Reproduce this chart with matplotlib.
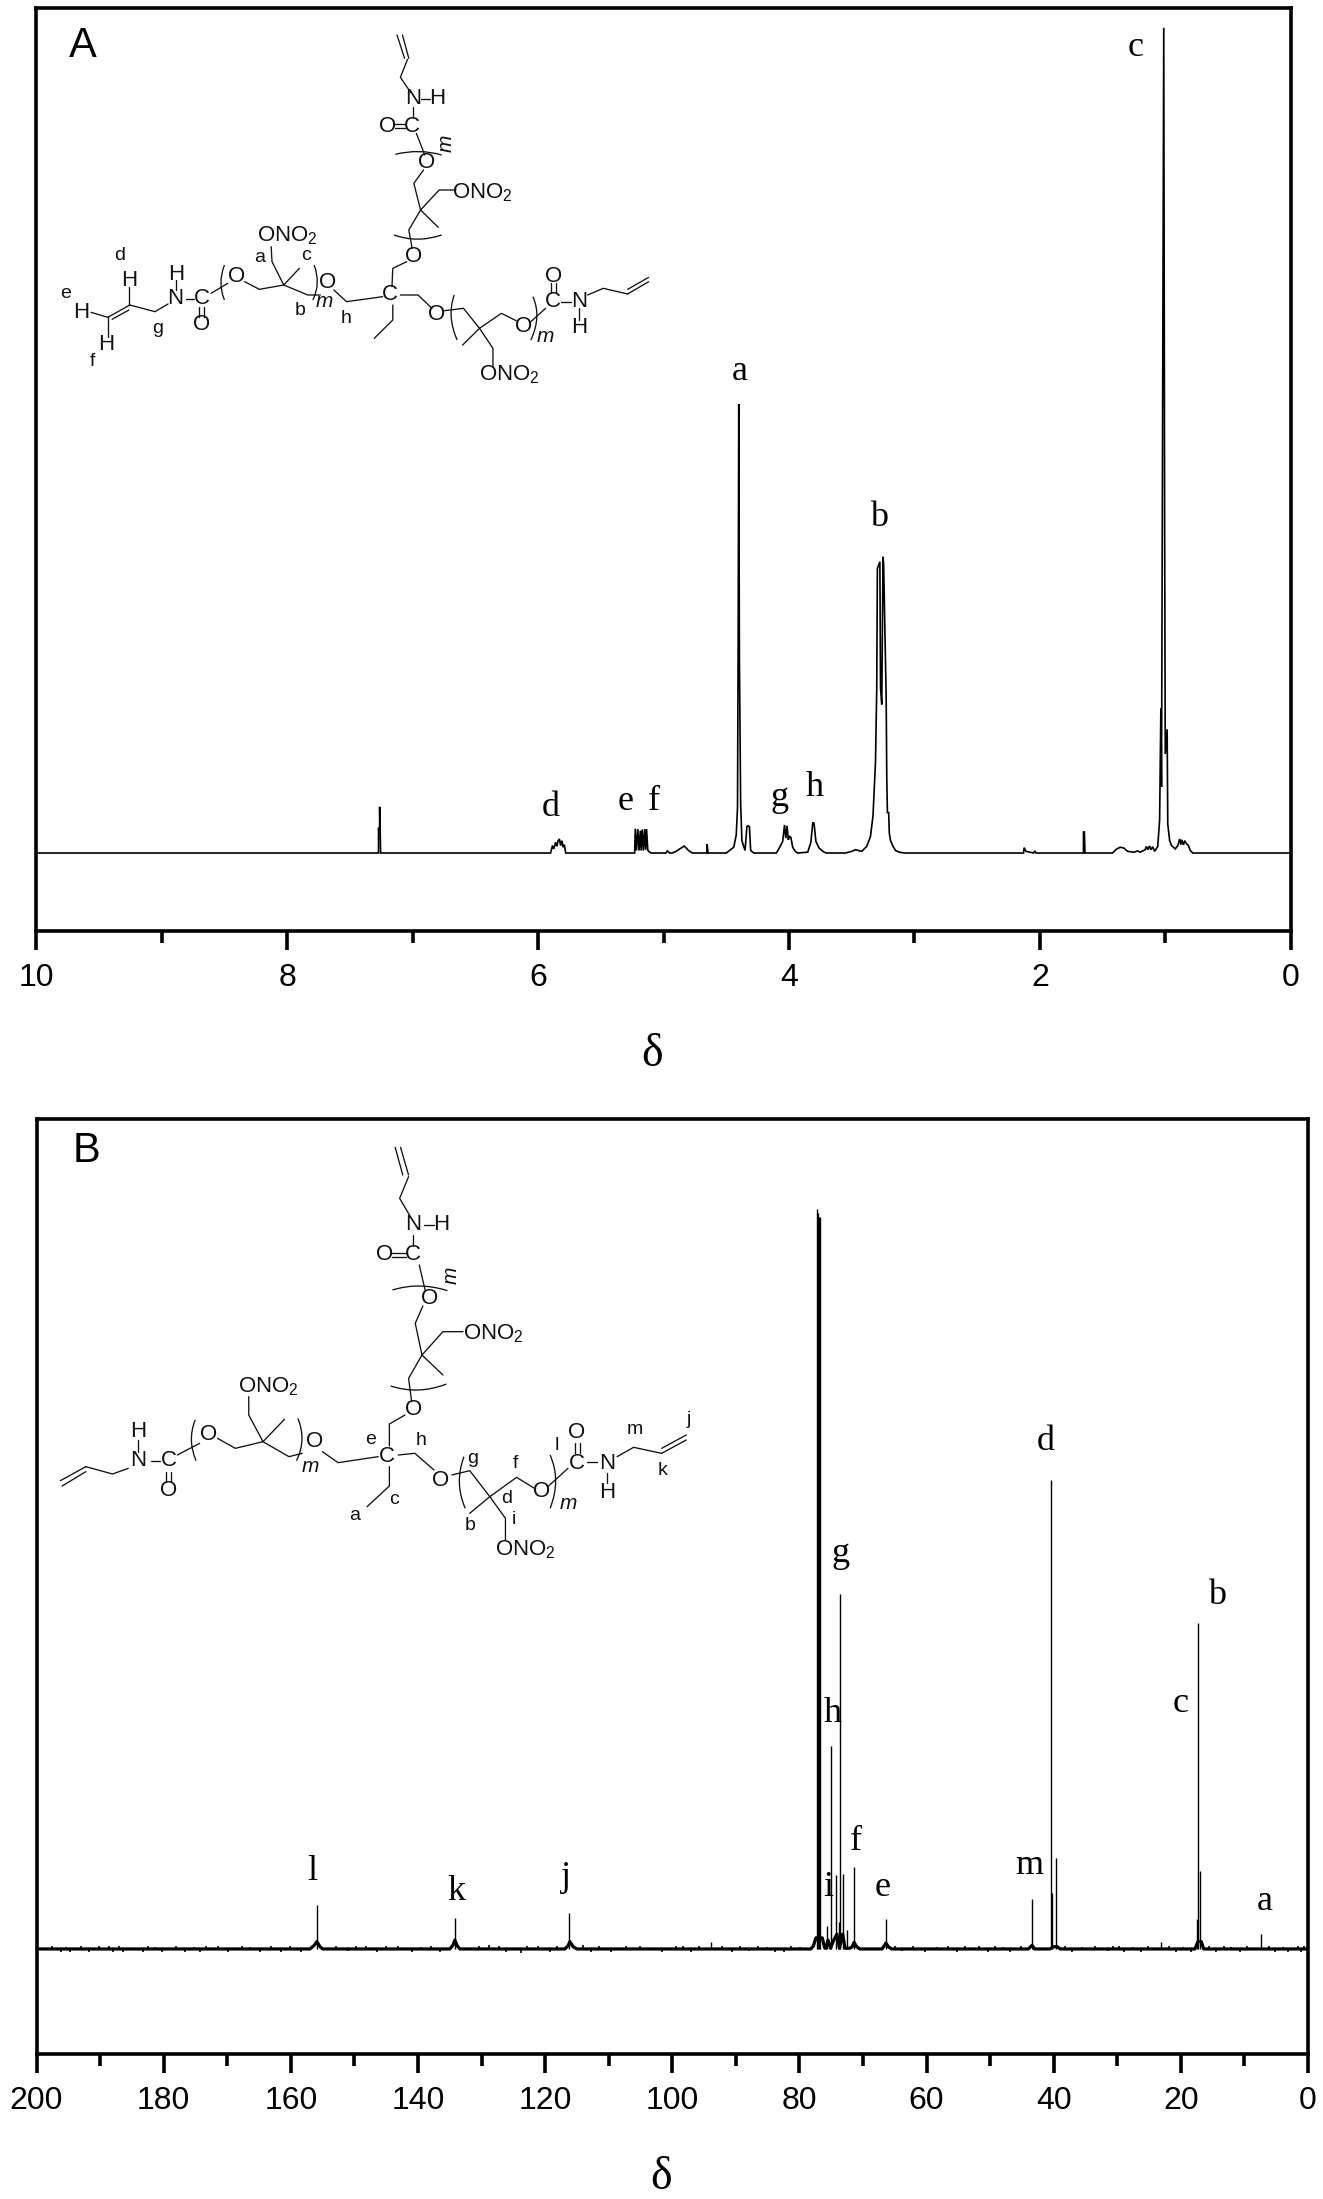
"""NMR spectra of the star polymer, 1H (A) and 13C (B), with the structures drawn on top."""

import matplotlib
matplotlib.use('Agg')
import matplotlib.pyplot as plt
from matplotlib.patches import PathPatch
from matplotlib.path import Path

plt.rcParams['font.family'] = ['Liberation Sans', 'DejaVu Sans']
plt.rcParams['mathtext.fontset'] = 'custom'
plt.rcParams['mathtext.rm'] = 'Liberation Sans'
plt.rcParams['mathtext.default'] = 'regular'

W, H = 1323, 2199
SERIF = ['Liberation Serif', 'DejaVu Serif']

# 1H trace (intensity: tallest peak = 100)
a_ppm = [10, 7.272, 7.272, 7.263, 7.263, 7.255,
         5.90, 5.885, 5.875, 5.86, 5.85, 5.84, 5.83, 5.82, 5.81, 5.80, 5.79, 5.78,
         5.23, 5.225, 5.215, 5.205, 5.195, 5.185, 5.178, 5.170, 5.160, 5.150, 5.142, 5.135, 5.125, 5.10,
         4.98, 4.97, 4.95, 4.93, 4.90, 4.87, 4.835, 4.80, 4.77,
         4.655, 4.652, 4.645, 4.60, 4.50, 4.47,
         4.44, 4.42, 4.41, 4.405, 4.40, 4.395, 4.385, 4.375, 4.35,
         4.335, 4.325, 4.315, 4.305, 4.28,
         4.10, 4.07, 4.05, 4.035, 4.025, 4.015, 4.005, 3.995, 3.985, 3.97, 3.95, 3.93,
         3.85, 3.84, 3.825, 3.81, 3.80, 3.785, 3.76, 3.72, 3.70,
         3.55, 3.50, 3.47, 3.42, 3.38, 3.35, 3.33, 3.31, 3.30, 3.295, 3.275, 3.27, 3.26, 3.25,
         3.245, 3.225, 3.22, 3.215, 3.205, 3.20, 3.19, 3.17, 3.15, 3.12, 3.08,
         2.13, 2.125, 2.11, 2.08, 2.05, 2.04, 2.03,
         1.652, 1.652, 1.645, 1.64,
         1.42, 1.39, 1.36, 1.33, 1.30, 1.25, 1.22, 1.20, 1.16, 1.15, 1.14, 1.125, 1.115, 1.10, 1.085,
         1.06, 1.045, 1.035, 1.03, 1.012, 1.005, 1.0, 0.985, 0.98, 0.965, 0.95, 0.92, 0.90,
         0.885, 0.875, 0.87, 0.855, 0.845, 0.83, 0.815, 0.80, 0.78, 0.75, 0]
a_int = [0, 0, 3.0, 3.0, 5.6, 0,
         0, 0.9, 0.5, 1.3, 0.8, 1.5, 1.7, 0.9, 1.5, 0.7, 1.0, 0,
         0, 2.95, 0.3, 2.9, 0.3, 2.7, 0.3, 2.85, 0.3, 2.9, 0.4, 2.9, 0.3, 0,
         0, 0.25, 0, 0, 0.2, 0.5, 0.85, 0.3, 0,
         0, 1.05, 0, 0, 0, 0.35,
         0.7, 2.2, 5.5, 25, 54.4, 24, 6.0, 1.5, 0.3,
         3.2, 3.3, 3.2, 0.3, 0,
         0, 0.8, 1.4, 3.4, 1.8, 3.3, 1.6, 2.0, 1.9, 0.7, 0.2, 0,
         0.1, 0.6, 1.3, 3.7, 3.6, 1.4, 0.6, 0.1, 0,
         0, 0.2, 0.4, 0.2, 0.8, 2.0, 4.5, 11, 20, 34.5, 35.3, 20, 18, 35.9,
         34.9, 19, 9, 4.9, 4.9, 2.4, 1.5, 0.8, 0.3, 0.1, 0,
         0, 0.65, 0.2, 0.1, 0, 0.25, 0,
         0, 2.55, 2.55, 0,
         0, 0.45, 0.7, 0.6, 0.2, 0.1, 0.25, 0.1, 0.4, 0.8, 0.4, 0.85, 0.4, 0.75, 0.2,
         0.8, 4.0, 17.5, 8, 100, 40, 12, 15, 3.5, 1.5, 0.9, 0.5, 0.9,
         1.7, 1.0, 1.6, 1.0, 1.5, 1.1, 0.9, 0.3, 0, 0, 0]

# 13C sticks and the small feet under the bigger ones
b_peak_ppm = [155.9, 134.2, 116.2, 93.9, 77.2, 77.05, 76.9, 76.75, 75.6, 75.0, 74.3, 73.8, 73.6, 73.2,
              72.5, 71.4, 66.4, 43.4, 40.45, 40.2, 39.7, 23.15, 17.4, 17.24, 17.0, 7.4]
b_peak_int = [5.9, 4.2, 4.8, 0.9, 100, 99.5, 99, 99, 3.1, 27.4, 10, 3.7, 48, 10.1,
              2.6, 11.1, 4.05, 6.8, 63.4, 7.5, 12.3, 0.9, 4, 44, 10.5, 2]
b_foot_ppm = [200, 157, 156.3, 155.9, 155.4, 155, 135, 134.5, 134.2, 133.8, 133.4, 116.9, 116.4, 116.1, 115.6, 115,
              78.2, 77.8, 77.4, 76.4, 76, 75.8, 75.5, 75.1, 74.6, 74.1, 73.7, 73.2, 72.8, 72, 71.7, 71.4, 71, 70.5,
              67, 66.6, 66.4, 66, 65.5, 44, 43.4, 43, 40.6, 40, 39.4, 39, 17.8, 17.3, 16.8, 16.4, 0]
b_foot_int = [0, 0, 0.5, 1.0, 0.3, 0, 0, 0.5, 1.2, 0.4, 0, 0, 0.4, 1.0, 0.3, 0,
              0, 0.4, 1.5, 1.5, 0.1, 0.1, 1.2, 0.1, 1.2, 2.0, 0.1, 2.0, 0.1, 0.1, 0.3, 0.9, 0.3, 0,
              0, 0.5, 0.8, 0.3, 0, 0, 0.5, 0, 0, 0.3, 0.3, 0, 0, 1.0, 1.0, 0, 0]
b_noise_ppm = [197.5, 196.2, 195.4, 194.8, 193.0, 191.8, 190.2, 188.6, 187.9, 187.0, 186.4, 183.2, 182.5, 181.4, 180.3, 178.0,
               176.6, 175.2, 174.3, 173.4, 171.5, 169.8, 167.6, 166.4, 164.8, 163.1, 161.5, 160.2, 158.4, 152.9, 151.0, 149.7,
               148.2, 146.4, 145.1, 143.2, 141.0, 139.5, 137.9, 136.6, 130.4, 128.8, 127.3, 126.1, 123.8, 122.9, 121.1, 119.2,
               118.1, 114.0, 112.8, 111.5, 109.7, 107.2, 105.0, 101.6, 99.4, 98.3, 97.1, 95.8, 92.1, 90.6, 89.4, 87.9, 86.5,
               85.1, 83.9, 82.4, 81.3, 79.9, 65.0, 63.8, 62.1, 60.2, 58.3, 56.7, 55.2, 53.9, 51.8, 50.4, 49.2, 48.0, 46.8, 45.2,
               38.3, 37.2, 35.6, 33.5, 31.4, 30.6, 29.8, 29.0, 27.6, 26.2, 25.1, 21.9, 20.8, 19.6, 18.4, 15.6, 14.4, 13.2, 12.1,
               10.7, 9.6, 6.1, 5.2, 4.0, 3.1, 1.6, 1.1, 0.6]
b_noise_int = [0.35, -0.4, 0.3, -0.4, 0.4, -0.35, 0.4, 0.35, -0.4, 0.4, -0.35, -0.4, 0.35, 0.3, -0.4, 0.4,
               -0.35, 0.3, -0.4, 0.4, 0.35, -0.4, 0.4, 0.3, -0.4, 0.35, -0.35, 0.4, -0.4, 0.35, -0.3, 0.4,
               0.4, -0.4, 0.35, 0.4, -0.35, 0.3, 0.4, -0.4, 0.4, 0.5, 0.45, -0.4, -0.5, 0.35, 0.4, -0.4,
               0.35, 0.5, -0.35, 0.4, -0.4, 0.35, 0.35, -0.35, 0.4, 0.45, -0.4, 0.35, 0.4, -0.35, 0.35, -0.3, 0.35,
               0.3, -0.35, -0.4, 0.35, 0.3, 0.4, -0.3, 0.35, -0.4, 0.3, 0.35, -0.35, 0.4, 0.35, -0.4, 0.35, 0.3, -0.35, 0.4,
               0.4, -0.35, 0.3, 0.4, -0.3, 0.45, 0.4, -0.35, 0.3, -0.4, 0.35, 0.4, -0.35, 0.3, -0.4, 0.45, -0.4, 0.35, 0.3,
               -0.35, 0.4, 0.35, -0.4, 0.3, -0.35, 0.4, -0.4, 0.45]

a_ticks = [10, 8, 6, 4, 2, 0]
a_minor = [9, 7, 5, 3, 1]
b_ticks = [200, 180, 160, 140, 120, 100, 80, 60, 40, 20, 0]
b_minor = [190, 170, 150, 130, 110, 90, 70, 50, 30, 10]

# peak letters: text, x, y in pixels
a_letters = [('a', 740, 371), ('b', 879, 518), ('c', 1136, 48), ('d', 551, 807), ('e', 626, 802),
             ('f', 654, 802), ('g', 780, 798), ('h', 815, 787)]
b_letters = [('l', 312, 1871), ('k', 456, 1892), ('j', 566, 1877), ('i', 828, 1887), ('f', 856, 1841),
             ('e', 883, 1887), ('m', 1029, 1865), ('a', 1265, 1902), ('h', 833, 1713), ('g', 841, 1553),
             ('d', 1046, 1441), ('c', 1181, 1703), ('b', 1217, 1595)]

# structure A, coordinates taken from a crop at (30, 0)
a_bonds = [
    [(872, 105), (890, 175)], [(885, 105), (900, 175)], [(897, 178), (880, 232), (905, 278)],
    [(930, 297), (950, 297)], [(910, 322), (910, 355)], [(868, 372), (892, 372)], [(868, 385), (892, 385)],
    [(918, 400), (938, 465)],
    [(935, 510), (912, 550), (928, 630)], [(928, 630), (972, 570), (1012, 570)], [(928, 630), (970, 682)],
    [(928, 630), (900, 690), (908, 745)],
    [(895, 785), (862, 805), (860, 860)], [(880, 885), (922, 885), (955, 925)],
    [(862, 915), (862, 960), (818, 1015)], [(838, 890), (752, 905), (722, 870)],
    [(690, 885), (660, 885), (603, 855)], [(603, 855), (575, 785), (573, 740)], [(603, 855), (640, 805)],
    [(603, 855), (545, 868), (510, 845)],
    [(470, 850), (430, 880)], [(402, 920), (402, 950)], [(414, 920), (414, 950)], [(370, 897), (390, 897)],
    [(347, 840), (347, 870)], [(328, 912), (297, 935), (237, 915)], [(235, 860), (235, 915)],
    [(237, 915), (185, 952)], [(235, 930), (195, 958)], [(145, 937), (185, 952)], [(185, 952), (185, 1010)],
    [(985, 932), (1030, 925), (1068, 985)], [(1068, 985), (1120, 940), (1155, 962)], [(1068, 985), (1028, 1035)],
    [(1068, 985), (1100, 1045), (1100, 1100)],
    [(1190, 965), (1225, 925)], [(1238, 880), (1238, 850)],
    [(1250, 880), (1250, 850)], [(1262, 905), (1285, 905)], [(1305, 925), (1305, 960)],
    [(1325, 885), (1362, 865), (1420, 882)], [(1420, 882), (1470, 845)], [(1420, 868), (1470, 832)],
]
a_arcs = [[(868, 463), (925, 445), (978, 465)], [(865, 705), (920, 730), (978, 705)],
          [(462, 795), (445, 850), (462, 900)], [(675, 795), (692, 850), (672, 900)],
          [(1008, 885), (990, 950), (1015, 1020)], [(1195, 890), (1216, 950), (1190, 1020)]]
a_atoms = [('N', 910, 297), ('H', 968, 297), ('C', 908, 378), ('O', 850, 378), ('O', 942, 488),
           ('ONO$_2$', 1075, 577), ('O', 912, 770), ('C', 855, 885), ('O', 965, 945), ('O', 708, 848),
           ('ONO$_2$', 612, 708), ('O', 490, 830), ('C', 408, 897), ('O', 408, 975), ('N', 345, 897),
           ('H', 347, 822), ('H', 235, 842), ('H', 122, 937), ('H', 182, 1035), ('O', 1172, 980),
           ('ONO$_2$', 1140, 1125), ('C', 1242, 905), ('O', 1245, 828), ('N', 1305, 905), ('H', 1305, 982)]
a_small = [('d', 212, 765), ('e', 84, 880), ('f', 148, 1085), ('g', 304, 985), ('a', 545, 772),
           ('c', 655, 768), ('b', 643, 932), ('h', 752, 955)]
a_italic = [('m', 700, 905, 0), ('m', 1225, 1010, 0), ('m', 988, 430, 90)]

# structure B, coordinates taken from a crop at (30, 1120)
b_bonds = [
    [(818, 82), (835, 165)], [(830, 82), (848, 165)], [(848, 170), (828, 235), (850, 285)],
    [(882, 315), (905, 315)], [(858, 345), (858, 378)], [(812, 400), (842, 400)], [(812, 412), (842, 412)],
    [(872, 435), (885, 510)],
    [(880, 558), (863, 610), (878, 705)], [(878, 705), (925, 635), (970, 635)], [(878, 705), (925, 765)],
    [(878, 705), (848, 775), (855, 845)],
    [(840, 885), (805, 912), (805, 978)], [(825, 1005), (862, 1000), (905, 1050)],
    [(805, 1040), (805, 1098), (755, 1160)], [(780, 1010), (690, 1028), (655, 995)],
    [(610, 1000), (580, 1010), (522, 965)], [(522, 965), (490, 885), (490, 830)], [(522, 965), (570, 898)],
    [(522, 965), (460, 985), (420, 955)],
    [(380, 970), (330, 1005)], [(304, 1055), (304, 1085)], [(316, 1055), (316, 1085)], [(270, 1022), (292, 1022)],
    [(243, 960), (243, 995)], [(220, 1045), (185, 1062), (125, 1040)], [(125, 1040), (68, 1082)], [(125, 1055), (72, 1098)],
    [(945, 1065), (985, 1052), (1030, 1130)], [(1030, 1130), (1090, 1072), (1130, 1105)], [(1030, 1130), (985, 1180)],
    [(1030, 1130), (1065, 1195), (1065, 1260)],
    [(1160, 1100), (1205, 1045)], [(1220, 1000), (1220, 970)],
    [(1232, 1000), (1232, 970)], [(1248, 1025), (1270, 1025)], [(1292, 1060), (1292, 1090)],
    [(1315, 1010), (1352, 982), (1415, 1000)], [(1415, 1000), (1470, 960)], [(1415, 985), (1470, 945)],
]
b_arcs = [[(812, 510), (872, 485), (935, 512)], [(808, 798), (870, 825), (933, 792)],
          [(370, 900), (352, 960), (372, 1022)], [(600, 895), (620, 960), (597, 1022)],
          [(972, 1010), (950, 1090), (975, 1165)], [(1165, 1005), (1190, 1080), (1165, 1165)]]
b_atoms = [('N', 858, 315), ('H', 922, 315), ('C', 858, 405), ('O', 795, 405), ('O', 895, 535),
           ('ONO$_2$', 1038, 640), ('O', 860, 868), ('C', 800, 1008), ('O', 920, 1080), ('O', 637, 965),
           ('ONO$_2$', 535, 800), ('O', 400, 942), ('C', 310, 1022), ('O', 310, 1112), ('N', 243, 1022),
           ('H', 243, 935), ('O', 1145, 1115), ('ONO$_2$', 1110, 1288), ('C', 1225, 1030), ('O', 1225, 938),
           ('N', 1292, 1030), ('H', 1292, 1118)]
b_small = [('e', 762, 960), ('h', 875, 962), ('g', 992, 1015), ('f', 1088, 1032), ('l', 1180, 975),
           ('m', 1355, 928), ('j', 1475, 900), ('k', 1418, 1052), ('d', 1068, 1135), ('c', 815, 1140),
           ('a', 728, 1188), ('b', 985, 1218), ('i', 1085, 1200)]
b_italic = [('m', 628, 1038, 0), ('m', 1205, 1150, 0), ('m', 943, 465, 90)]


def px_axes(fig, left, right, top, bottom):
    return fig.add_axes([left / W, 1 - bottom / H, (right - left) / W, (bottom - top) / H])


def style_axes(ax, ticks, minor, xmax, ylim):
    ax.set_xlim(xmax, 0)
    ax.set_ylim(*ylim)
    ax.set_yticks([])
    ax.set_xticks(ticks)
    ax.set_xticks(minor, minor=True)
    ax.tick_params(axis='x', which='major', length=14, width=2.6, labelsize=23, pad=9)
    ax.tick_params(axis='x', which='minor', length=8.5, width=2.6)
    for spine in ax.spines.values():
        spine.set_linewidth(2.6)
    ax.set_xlabel('\u03b4', family=SERIF, fontsize=33, x=0.491, labelpad=29)


def draw_structure(ov, bonds, arcs, atoms, small, italic, x0, y0, fx):
    def to_px(x, y):
        return x0 + x / fx, y0 + y / 3

    for bond in bonds:
        pts = [to_px(x, y) for x, y in bond]
        ov.plot([p[0] for p in pts], [p[1] for p in pts], color='#111111', lw=0.95,
                solid_capstyle='round')
    for arc in arcs:
        path = Path([to_px(x, y) for x, y in arc], [Path.MOVETO, Path.CURVE3, Path.CURVE3])
        ov.add_patch(PathPatch(path, fill=False, edgecolor='#111111', lw=0.95))
    for label, x, y in atoms:
        px, py = to_px(x, y)
        ov.text(px, py, label, fontsize=16, ha='center', va='center', color='#111111')
    for label, x, y in small:
        px, py = to_px(x, y)
        ov.text(px, py, label, fontsize=14, ha='center', va='center', color='#111111')
    for label, x, y, rot in italic:
        px, py = to_px(x, y)
        ov.text(px, py, label, fontsize=15, style='italic', rotation=rot, ha='center', va='center',
                color='#111111')


fig = plt.figure(figsize=(W / 100, H / 100), dpi=100)

ax_a = px_axes(fig, 36.3, 1290.7, 8, 931)
ax_a.plot(a_ppm, a_int, color='black', lw=1.2, solid_joinstyle='miter')
style_axes(ax_a, a_ticks, a_minor, 10, (-9.45, 102.4))

ax_b = px_axes(fig, 36.5, 1308, 1119, 2054)
ax_b.plot(b_foot_ppm, b_foot_int, color='black', lw=2.3)
ax_b.vlines(b_peak_ppm, 0, b_peak_int, color='black', lw=1.0)
ax_b.vlines(b_noise_ppm, 0, b_noise_int, color='black', lw=1.2)
style_axes(ax_b, b_ticks, b_minor, 200, (-14.2, 112.2))

# overlay in image pixels for the letters and structures
ov = fig.add_axes([0, 0, 1, 1])
ov.set_xlim(0, W)
ov.set_ylim(H, 0)
ov.axis('off')
ov.patch.set_alpha(0)

ov.text(83, 46, 'A', fontsize=30, ha='center', va='center')
ov.text(87, 1151, 'B', fontsize=30, ha='center', va='center')
for label, x, y in a_letters + b_letters:
    ov.text(x, y, label, family=SERIF, fontsize=26, ha='center', va='center')

draw_structure(ov, a_bonds, a_arcs, a_atoms, a_small, a_italic, 30, 0, 2.376)
draw_structure(ov, b_bonds, b_arcs, b_atoms, b_small, b_italic, 30, 1120, 2.24)

fig.savefig('out.png', dpi=100, facecolor='white')
plt.close(fig)
